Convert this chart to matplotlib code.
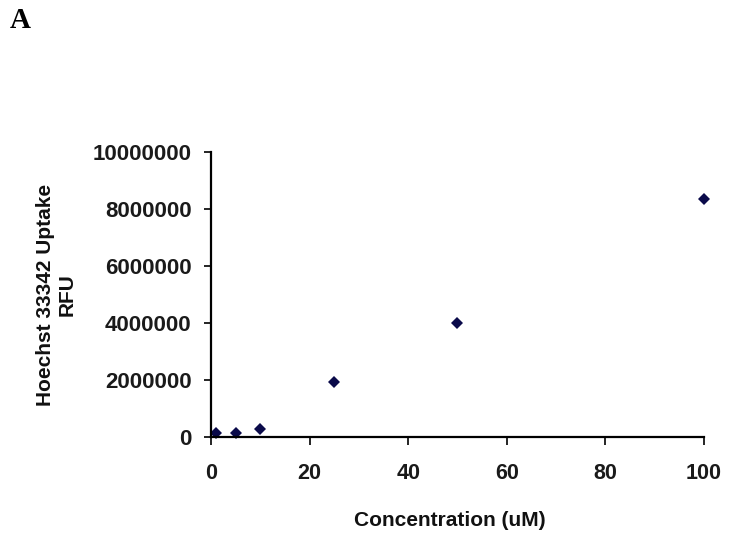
import matplotlib
matplotlib.use("Agg")
import matplotlib.pyplot as plt
from matplotlib.ticker import FixedLocator

concentration = [1, 5, 10, 25, 50, 100]
rfu = [150000, 150000, 270000, 1930000, 4000000, 8350000]
x_ticks = [0, 20, 40, 60, 80, 100]
y_ticks = [0, 2000000, 4000000, 6000000, 8000000, 10000000]

plt.rcParams['font.family'] = ['Liberation Sans', 'DejaVu Sans']
fig = plt.figure(figsize=(7.37, 5.38), dpi=100)
ax = fig.add_axes([211/737, 1-437/538, (704-211)/737, (437-152)/538])

ax.plot(concentration, rfu, linestyle='none', marker='D', markersize=6.5,
        color='#0a0a4a', markeredgewidth=0, clip_on=False)

ax.set_xlim(0, 100)
ax.set_ylim(0, 10000000)
ax.xaxis.set_major_locator(FixedLocator(x_ticks))
ax.yaxis.set_major_locator(FixedLocator(y_ticks))
ax.set_xticklabels([str(v) for v in x_ticks], fontsize=15.5, fontweight='bold', color='#1a1a1a')
ax.set_yticklabels([str(v) for v in y_ticks], fontsize=16, fontweight='bold', color='#1a1a1a')
for s in ['top', 'right']:
    ax.spines[s].set_visible(False)
for s in ['left', 'bottom']:
    ax.spines[s].set_linewidth(1.6)
ax.tick_params(axis='x', direction='out', length=6, width=1.2, pad=13)
ax.tick_params(axis='y', direction='out', length=5, width=1.2, pad=9)
ax.set_xlabel('Concentration (uM)', fontsize=15, fontweight='bold', color='#111111', va='center')
ax.xaxis.set_label_coords((450-211)/493, (437-520)/285)
ax.set_ylabel('Hoechst 33342 Uptake\nRFU', fontsize=15, fontweight='bold', color='#111111', va='center')
ax.yaxis.set_label_coords((56-211)/493, 0.5)

fig.text(10/737, 1-28/538, 'A', fontsize=21, fontweight='bold', family='Liberation Serif')

fig.savefig('out.png', dpi=100)
